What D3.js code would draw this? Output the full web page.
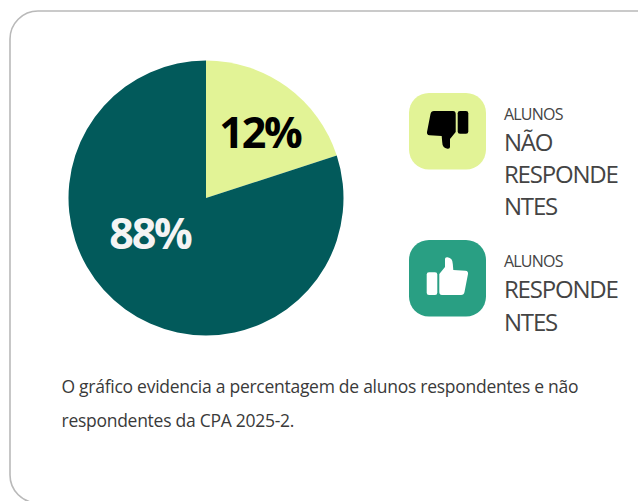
<!DOCTYPE html>
<html><head><meta charset="utf-8">
<script src="https://cdn.jsdelivr.net/npm/d3@7/dist/d3.min.js"></script>
<style>html,body{margin:0;padding:0;background:#fff;overflow:hidden}svg{display:block;font-family:"Open Sans",sans-serif}</style>
</head><body><svg id="c" width="638" height="501"></svg>
<script>
const categories=["Alunos não respondentes","Alunos respondentes"];
const sliceValues=[20,80];
const sliceLabels=["12%","88%"];
const sliceColors=["#e2f396","#025a5b"];
const labelColors=["#000000","#f4f4f4"];
const legendSmall=["ALUNOS","ALUNOS"];
const legendLines=[["NÃO","RESPONDE","NTES"],["RESPONDE","NTES"]];
const caption=["O gráfico evidencia a percentagem de alunos respondentes e não","respondentes da CPA 2025-2."];

const svg=d3.select("#c");
svg.append("rect").attr("x",10).attr("y",11).attr("width",680).attr("height",492).attr("rx",28)
 .attr("fill","#fff").attr("stroke","#b9b9b9").attr("stroke-width",1.6);

const cx=206,cy=198,R=137.5;
const pie=d3.pie().sort(null).value(d=>d);
const arc=d3.arc().innerRadius(0).outerRadius(R);
const g=svg.append("g").attr("transform",`translate(${cx},${cy})`);
g.selectAll("path").data(pie(sliceValues)).join("path").attr("d",arc).attr("fill",(d,i)=>sliceColors[i]);

const labelPos=[[260,147.5],[150,248.5]];
svg.selectAll("text.pct").data(sliceLabels).join("text").attr("class","pct")
 .attr("x",(d,i)=>labelPos[i][0]).attr("y",(d,i)=>labelPos[i][1])
 .attr("text-anchor","middle").attr("font-size",43).attr("font-weight",700).attr("letter-spacing",-2.2)
 .attr("fill",(d,i)=>labelColors[i]).text(d=>d);

// legend
const handUp="M30.3 34 L36 27 L36 19 Q36 17 38.5 17.3 Q43.7 18 43.8 24 L44.3 30 L56.5 30.8 Q59.4 31 59 34 L55.5 52 Q55 55 52 55 L33 55 Q30.3 55 30.3 52 Z";
const rectUp="M20 32.3 H26 Q28.3 32.3 28.3 34.6 V52.7 Q28.3 55 26 55 H20 Q17.7 55 17.7 52.7 V34.6 Q17.7 32.3 20 32.3 Z";
const iconTop=[93,240];
const iconFill=["#e2f396","#299f83"];
const glyphFill=["#000","#fff"];
const glyphTf=["rotate(180 38.5 36.5)",""];
const smallY=[120,267];
const lineY=[[151,183,215],[298,331]];
categories.forEach((c,i)=>{
  const ic=svg.append("g").attr("transform",`translate(409,${iconTop[i]})`);
  ic.append("rect").attr("width",77).attr("height",76.5).attr("rx",20).attr("fill",iconFill[i]);
  const gl=ic.append("g").attr("transform",glyphTf[i]).attr("fill",glyphFill[i]);
  gl.append("path").attr("d",handUp);
  gl.append("path").attr("d",rectUp);
  svg.append("text").attr("x",504).attr("y",smallY[i]).attr("font-size",16).attr("font-weight",400).attr("letter-spacing",-0.8).attr("fill","#444").text(legendSmall[i]);
  legendLines[i].forEach((t,j)=>{
    svg.append("text").attr("x",504).attr("y",lineY[i][j]).attr("font-size",24).attr("font-weight",400).attr("letter-spacing",-1.2).attr("fill","#444").text(t);
  });
});
const capY=[392.5,426.5];
caption.forEach((t,i)=>svg.append("text").attr("x",61.5).attr("y",capY[i]).attr("font-size",17.5).attr("letter-spacing",-0.27).attr("fill","#3a3a3a").text(t));
</script></body></html>
